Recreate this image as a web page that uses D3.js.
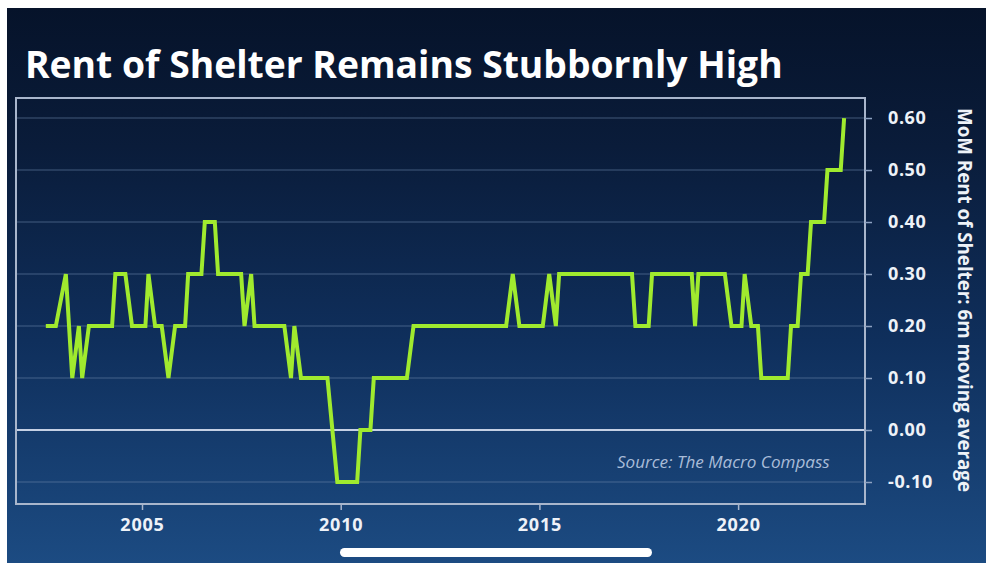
<!DOCTYPE html>
<html>
<head>
<meta charset="utf-8">
<script src="https://cdn.jsdelivr.net/npm/d3@7"></script>
<style>
  html, body { margin: 0; padding: 0; background: #fff; }
  svg { display: block; }
</style>
</head>
<body>
<div id="chart"></div>
<script>
// vertices of the line (month, value)
var months = [
	'2002-08','2002-11','2003-02','2003-04','2003-06','2003-07','2003-09',
	'2004-04','2004-05','2004-08','2004-10','2005-02','2005-03','2005-05',
	'2005-07','2005-09','2005-11','2006-02','2006-03','2006-07','2006-08',
	'2006-11','2006-12','2007-07','2007-08','2007-10','2007-11','2008-08',
	'2008-10','2008-11','2009-01','2009-09','2009-12','2010-06','2010-07',
	'2010-10','2010-11','2011-09','2011-11','2014-03','2014-05','2014-07',
	'2015-02','2015-04','2015-06','2015-07','2017-05','2017-06','2017-10',
	'2017-11','2018-11','2018-12','2019-01','2019-09','2019-11','2020-02',
	'2020-03','2020-05','2020-07','2020-08','2021-04','2021-05','2021-07',
	'2021-08','2021-10','2021-11','2022-03','2022-04','2022-08','2022-09'
];
var values = [
	0.2, 0.2, 0.3, 0.1, 0.2, 0.1, 0.2,
	0.2, 0.3, 0.3, 0.2, 0.2, 0.3, 0.2,
	0.2, 0.1, 0.2, 0.2, 0.3, 0.3, 0.4,
	0.4, 0.3, 0.3, 0.2, 0.3, 0.2, 0.2,
	0.1, 0.2, 0.1, 0.1, -0.1, -0.1, 0.0,
	0.0, 0.1, 0.1, 0.2, 0.2, 0.3, 0.2,
	0.2, 0.3, 0.2, 0.3, 0.3, 0.2, 0.2,
	0.3, 0.3, 0.2, 0.3, 0.3, 0.2, 0.2,
	0.3, 0.2, 0.2, 0.1, 0.1, 0.2, 0.2,
	0.3, 0.3, 0.4, 0.4, 0.5, 0.5, 0.6
];
var yTicks = [-0.1, 0, 0.1, 0.2, 0.3, 0.4, 0.5, 0.6];
var xTickYears = [2005, 2010, 2015, 2020];

var titleText = 'Rent of Shelter Remains Stubbornly High';
var axisTitle = 'MoM Rent of Shelter: 6m moving average';
var sourceText = 'Source: The Macro Compass';

(function()
{
	var width = 986, height = 563;
	var plotLeft = 16, plotRight = 865, plotTop = 98, plotBottom = 504;
	var font = 'Open Sans, sans-serif';
	var parseMonth = d3.timeParse('%Y-%m');
	var data = months.map(function(m, i) { return { date: parseMonth(m), value: values[i] }; });

	// shrink or grow a text so it spans the width it has in the picture
	var fitWidth = function(sel, size, target) {
		var w = sel.node().getComputedTextLength();
		sel.attr('font-size', size * target / w);
	};

	var svg = d3.select('#chart').append('svg')
		.attr('width', width)
		.attr('height', height);

	var grad = svg.append('defs').append('linearGradient')
		.attr('id', 'bg')
		.attr('x1', 0).attr('y1', 0).attr('x2', 0).attr('y2', 1);
	grad.append('stop').attr('offset', '0%').attr('stop-color', '#06132a');
	grad.append('stop').attr('offset', '25%').attr('stop-color', '#0a1c3a');
	grad.append('stop').attr('offset', '60%').attr('stop-color', '#0f2f5c');
	grad.append('stop').attr('offset', '100%').attr('stop-color', '#1c4b82');

	// white edge of the screenshot, then the dark panel
	svg.append('rect').attr('width', width).attr('height', height).attr('fill', '#fff');
	svg.append('rect')
		.attr('x', 7).attr('y', 8)
		.attr('width', width - 7).attr('height', height - 8)
		.attr('fill', 'url(#bg)');

	var x = d3.scaleTime()
		.domain([new Date(2001, 9, 31), new Date(2023, 2, 12)])
		.range([plotLeft, plotRight]);
	var y = d3.scaleLinear()
		.domain([-0.1423, 0.6385])
		.range([plotBottom, plotTop]);

	// grid
	svg.append('g').selectAll('line')
		.data(yTicks.filter(function(d) { return d !== 0; }))
		.enter().append('line')
			.attr('x1', plotLeft).attr('x2', plotRight)
			.attr('y1', function(d) { return y(d); })
			.attr('y2', function(d) { return y(d); })
			.attr('stroke', '#6a83a8')
			.attr('stroke-opacity', 0.4)
			.attr('stroke-width', 1.5);

	svg.append('line')
		.attr('x1', plotLeft).attr('x2', plotRight)
		.attr('y1', y(0)).attr('y2', y(0))
		.attr('stroke', '#c5d0e4')
		.attr('stroke-width', 2);

	// frame
	svg.append('rect')
		.attr('x', plotLeft).attr('y', plotTop)
		.attr('width', plotRight - plotLeft).attr('height', plotBottom - plotTop)
		.attr('fill', 'none')
		.attr('stroke', '#a9b6cc')
		.attr('stroke-width', 2);

	// right axis
	var fmt = d3.format('.2f');
	var yAxis = d3.axisRight(y)
		.tickValues(yTicks)
		.tickSize(7)
		.tickPadding(16)
		.tickFormat(function(d) { return fmt(d).replace('\u2212', '-'); });
	var gy = svg.append('g')
		.attr('transform', 'translate(' + plotRight + ',0)')
		.call(yAxis);
	gy.select('.domain').remove();
	gy.selectAll('line').attr('stroke', '#8ea2c2').attr('stroke-width', 1.5);
	gy.selectAll('text')
		.attr('fill', '#eef2f8')
		.attr('font-family', font)
		.attr('font-weight', 700)
		.attr('font-size', 18)
		.attr('letter-spacing', 0.6);

	// bottom axis
	var xAxis = d3.axisBottom(x)
		.tickValues(xTickYears.map(function(yr) { return new Date(yr, 0, 1); }))
		.tickSize(6)
		.tickPadding(8)
		.tickFormat(d3.timeFormat('%Y'));
	var gx = svg.append('g')
		.attr('transform', 'translate(0,' + plotBottom + ')')
		.call(xAxis);
	gx.select('.domain').remove();
	gx.selectAll('line').attr('stroke', '#a9b6cc').attr('stroke-width', 1.5);
	gx.selectAll('text')
		.attr('fill', '#eef2f8')
		.attr('font-family', font)
		.attr('font-weight', 700)
		.attr('font-size', 18)
		.attr('letter-spacing', 0.8);

	// the series
	var line = d3.line()
		.x(function(d) { return x(d.date); })
		.y(function(d) { return y(d.value); });
	svg.append('path')
		.datum(data)
		.attr('d', line)
		.attr('fill', 'none')
		.attr('stroke', '#a0ea2e')
		.attr('stroke-width', 4)
		.attr('stroke-linejoin', 'miter')
		.attr('stroke-miterlimit', 2);

	var title = svg.append('text')
		.attr('x', 25).attr('y', 78)
		.attr('fill', '#ffffff')
		.attr('font-family', font)
		.attr('font-weight', 700)
		.attr('font-size', 32)
		.text(titleText);
	fitWidth(title, 32, 758);

	var at = svg.append('text')
		.attr('transform', 'translate(958,300) rotate(90)')
		.attr('text-anchor', 'middle')
		.attr('fill', '#eef2f8')
		.attr('font-family', font)
		.attr('font-weight', 700)
		.attr('font-size', 16)
		.text(axisTitle);
	fitWidth(at, 16, 384);

	var src = svg.append('text')
		.attr('x', 617).attr('y', 468)
		.attr('fill', '#a9bcd8')
		.attr('font-family', font)
		.attr('font-style', 'italic')
		.attr('font-size', 15)
		.text(sourceText);
	fitWidth(src, 15, 213);

	// phone home indicator
	svg.append('rect')
		.attr('x', 340).attr('y', 548)
		.attr('width', 312).attr('height', 9)
		.attr('rx', 4.5)
		.attr('fill', '#ffffff');
})();
</script>
</body>
</html>
